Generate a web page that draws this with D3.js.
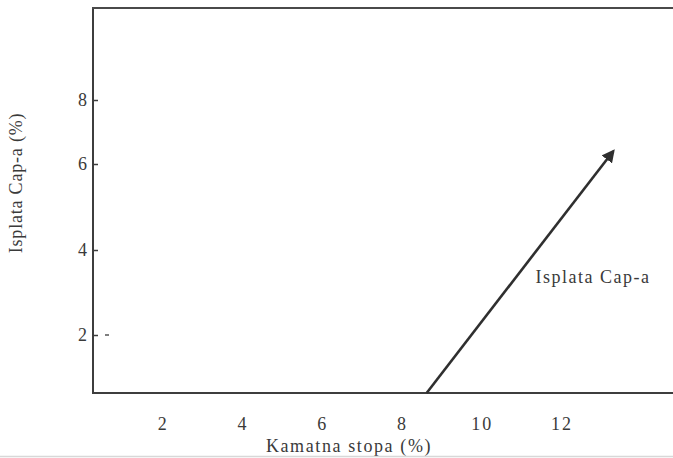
<!DOCTYPE html>
<html>
<head>
<meta charset="utf-8">
<script src="https://cdn.jsdelivr.net/npm/d3@7"></script>
<style>
  html, body { margin: 0; padding: 0; background: #fff; }
  svg { display: block; }
  text { font-family: "Liberation Serif", "DejaVu Serif", serif; fill: #3a3a3a; }
</style>
</head>
<body>
<svg id="chart" width="673" height="458"></svg>
<script>
// ---- data ----
const xTicks = [2, 4, 6, 8, 10, 12];
const yTicks = [2, 4, 6, 8];
const payoffX = [0.25, 8.62, 13.3];
const payoffY = [0.64, 0.64, 6.4];
const seriesLabel = "Isplata Cap-a";
const xTitle = "Kamatna stopa (%)";
const yTitle = "Isplata Cap-a (%)";

// ---- layout ----
const W = 673, H = 458;
const mLeft = 93, mRight = 673, mTop = 8, mBottom = 393;

const svg = d3.select("#chart");

const x = d3.scaleLinear().domain([0.25, 14.8]).range([mLeft, mRight]);
// hand-drawn vertical axis: uneven spacing between ticks
const y = d3.scaleLinear()
  .domain([0.64, 2, 4, 6, 8, 10.9])
  .range([mBottom, 335, 250, 164, 100, mTop]);

const axisColor = "#3d3d3d";

// frame: left, top
svg.append("line").attr("x1", mLeft).attr("x2", mLeft).attr("y1", mTop).attr("y2", mBottom)
  .attr("stroke", axisColor).attr("stroke-width", 2);
svg.append("line").attr("x1", mLeft - 1).attr("x2", mRight).attr("y1", mTop).attr("y2", mTop)
  .attr("stroke", "#4a4a4a").attr("stroke-width", 2.2);

// y axis ticks (inward) and labels
const yAxis = d3.axisRight(y).tickValues(yTicks).tickSize(5).tickFormat(d3.format("d"));
const gy = svg.append("g").attr("transform", `translate(${mLeft},0)`).call(yAxis);
gy.select(".domain").remove();
gy.selectAll(".tick line").attr("stroke", axisColor).attr("stroke-width", 1.5);
gy.selectAll(".tick text")
  .attr("x", -6).attr("text-anchor", "end")
  .style("font-family", "'Liberation Serif', serif")
  .style("font-size", "18px").attr("fill", "#3a3a3a");

// stray dash next to the 2 tick
svg.append("line").attr("x1", mLeft + 12).attr("x2", mLeft + 16)
  .attr("y1", y(2)).attr("y2", y(2)).attr("stroke", "#555").attr("stroke-width", 1.5);

// x axis labels (no tick marks)
const xAxis = d3.axisBottom(x).tickValues(xTicks).tickSize(0).tickPadding(24).tickFormat(d3.format("d"));
const gx = svg.append("g").attr("transform", `translate(0,${mBottom})`).call(xAxis);
gx.select(".domain").remove();
gx.selectAll(".tick text")
  .style("font-family", "'Liberation Serif', serif")
  .style("font-size", "18px").attr("fill", "#3a3a3a")
  .attr("letter-spacing", "2px");

// bottom axis line
svg.append("line").attr("x1", mLeft - 1).attr("x2", mRight).attr("y1", mBottom).attr("y2", mBottom)
  .attr("stroke", axisColor).attr("stroke-width", 2.2);

// arrow marker
svg.append("defs").append("marker")
  .attr("id", "arrow").attr("viewBox", "0 0 10 10")
  .attr("refX", 8).attr("refY", 5)
  .attr("markerWidth", 5).attr("markerHeight", 5)
  .attr("markerUnits", "strokeWidth")
  .attr("orient", "auto")
  .append("path").attr("d", "M0,0 L10,5 L0,10 z").attr("fill", "#2f2f2f");

// payoff line
const pts = payoffX.map((v, i) => [v, payoffY[i]]);
const line = d3.line().x(d => x(d[0])).y(d => y(d[1]));
svg.append("path")
  .datum(pts.slice(1))
  .attr("d", line)
  .attr("fill", "none")
  .attr("stroke", "#2f2f2f")
  .attr("stroke-width", 2.6)
  .attr("marker-end", "url(#arrow)");

// series label
svg.append("text")
  .attr("x", 593).attr("y", 283)
  .attr("text-anchor", "middle")
  .style("font-size", "18px")
  .attr("letter-spacing", "1.5px")
  .text(seriesLabel);

// axis titles
svg.append("text")
  .attr("x", 349).attr("y", 452)
  .attr("text-anchor", "middle")
  .style("font-size", "18px")
  .attr("letter-spacing", "1.6px")
  .text(xTitle);

svg.append("text")
  .attr("transform", "translate(22,183) rotate(-90)")
  .attr("text-anchor", "middle")
  .style("font-size", "18px")
  .attr("letter-spacing", "0.8px")
  .text(yTitle);

// faint scan edge line at the bottom
svg.append("line").attr("x1", 0).attr("x2", W).attr("y1", 456.5).attr("y2", 456.5)
  .attr("stroke", "#d8d8d8").attr("stroke-width", 1.5);
</script>
</body>
</html>
